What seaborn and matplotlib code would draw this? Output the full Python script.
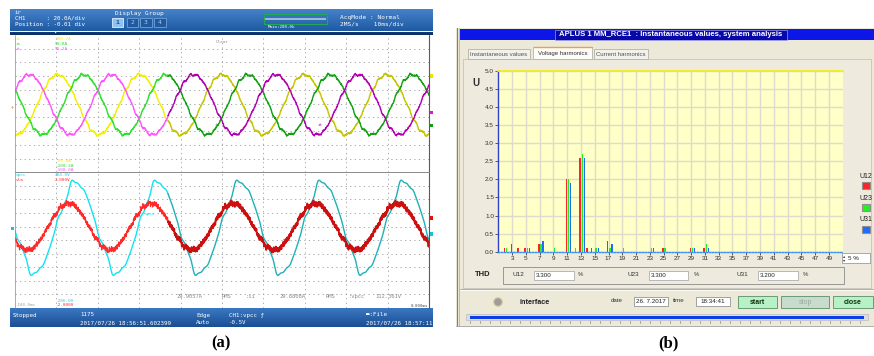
import numpy as np
import pandas as pd
import matplotlib
matplotlib.use("Agg")
import matplotlib.pyplot as plt
import seaborn as sns
from matplotlib.patches import Rectangle, Ellipse
from matplotlib.lines import Line2D
from matplotlib.colors import LinearSegmentedColormap

# ====================== DATA ======================
# (a) oscilloscope record: 10 ms/div, 10 divisions, 50 Hz system
time_span_ms = [0.0, 100.0]
period_ms = 19.86
current_names = ["ir", "is", "it"]
current_amp_A = [43.8, 43.6, 43.8]
current_peak_ms = [10.3, 16.6, 3.45]
current_offset_A = [-1.5, -1.5, -1.5]
current_scale_top = ["100.2A", "99.8A", "99.2A"]
current_scale_bot = ["-99.8A", "-100.2A", "-100.0A"]
current_ripple_orders = [11, 13, 23, 61, 97]
current_ripple_frac = [0.025, 0.02, 0.01, 0.012, 0.01]
voltage_names = ["vpcc", "vla"]
voltage_scale_top = ["284.0V", "2.000V"]
voltage_scale_bot = ["-286.0V", "-2.000V"]
vpcc_amp_V = 188.0
vpcc_offset_V = 51.0
vpcc_peak_ms = 14.85
vpcc_harm_orders = [3, 5, 7, 11, 13]
vpcc_harm_frac = [0.03, 0.05, 0.03, 0.015, 0.015]
vla_amp_V = 0.687
vla_offset_V = 0.396
vla_peak_ms = 12.95
vla_ripple_orders = [11, 13, 37, 71, 113, 157]
vla_ripple_frac = [0.03, 0.03, 0.03, 0.04, 0.04, 0.03]
history_split_ms = 37.0
measure_texts = ["29.9057A", "RMS", ":ii", "29.6808A", "RMS", ":vpcc", "112.361V"]

# (b) voltage harmonics (% of fundamental) per order
orders = [2, 3, 4, 5, 7, 9, 11, 12, 13, 14, 15, 17, 19, 23, 25, 29, 31]
u12 = [0.1, 0.2, 0.1, 0.1, 0.2, 0.0, 2.0, 0.0, 2.6, 0.1, 0.0, 0.3, 0.0, 0.0, 0.1, 0.1, 0.1]
u23 = [0.1, 0.0, 0.0, 0.1, 0.2, 0.1, 2.0, 0.1, 2.7, 0.0, 0.1, 0.1, 0.1, 0.1, 0.1, 0.1, 0.2]
u31 = [0.0, 0.0, 0.0, 0.1, 0.3, 0.0, 1.9, 0.0, 2.6, 0.1, 0.1, 0.2, 0.0, 0.1, 0.0, 0.1, 0.1]
series_names = ["U12", "U23", "U31"]
thd_values = ["3.300", "3.300", "3.200"]
x_tick_orders = list(range(3, 50, 2))
y_ticks = [0.0, 0.5, 1.0, 1.5, 2.0, 2.5, 3.0, 3.5, 4.0, 4.5, 5.0]

# ====================== SETUP ======================
W, H = 874, 356
sns.set_theme(style="white")
plt.rcParams["font.family"] = ["DejaVu Sans"]
MONO = "DejaVu Sans Mono"
UI = "Liberation Sans"

fig = plt.figure(figsize=(W / 100, H / 100), dpi=100)
fig.patch.set_facecolor("white")


def fx(x):
    return x / W


def fy(y):
    return 1 - y / H


def T(x, y, s, size=4.2, color="k", ha="left", va="center", family=MONO, **kw):
    return fig.text(fx(x), fy(y), s, size=size, color=color, ha=ha, va=va,
                    family=family, **kw)


def R(x0, y0, x1, y1, fc="none", ec="none", lw=0.6, z=-1, **kw):
    fig.add_artist(Rectangle((fx(x0), fy(y1)), fx(x1) - fx(x0), fy(y0) - fy(y1),
                             transform=fig.transFigure, fc=fc, ec=ec, lw=lw,
                             zorder=z, **kw))


def L(x0, y0, x1, y1, color="k", lw=0.6, z=2, **kw):
    fig.add_artist(Line2D([fx(x0), fx(x1)], [fy(y0), fy(y1)],
                          transform=fig.transFigure, color=color, lw=lw,
                          zorder=z, **kw))


def AX(x0, y0, x1, y1, **kw):
    return fig.add_axes([fx(x0), fy(y1), fx(x1) - fx(x0), fy(y0) - fy(y1)], **kw)


def grad(x0, y0, x1, y1, ctop, cbot):
    a = AX(x0, y0, x1, y1)
    a.set_axis_off()
    cm = LinearSegmentedColormap.from_list("g", [ctop, cbot])
    a.imshow(np.linspace(0, 1, 64)[:, None], aspect="auto", cmap=cm,
             extent=(0, 1, 0, 1))
    return a


# ====================== (b) HARMONICS WINDOW ======================
R(456, 27.5, 874, 326, fc="#ece9d8", ec="none", z=-2)
L(456.5, 27.5, 456.5, 326, color="#808080", lw=0.8)
L(459, 27.5, 459, 326, color="#b8b4a8", lw=0.6)
L(456, 326, 874, 326, color="#a0a0a0", lw=0.6)
R(460, 29, 874, 40, fc="#0c16e6", z=-1)
R(555, 29.6, 787, 39.6, fc="#0808a8", ec="#b8b8ff", lw=0.4, z=1)
T(671, 34.8, "APLUS 1 MM_RCE1  : Instantaneous values, system analysis", size=5.6,
  color="white", ha="center", family=UI, weight="bold")

for (x0, x1, s, sel) in [(468, 530, "Instantaneous values", False),
                         (533, 592, "Voltage harmonics", True),
                         (594, 648, "Current harmonics", False)]:
    if sel:
        R(x0, 47, x1, 58.8, fc="#fbfbf8", ec="#a8a8a0", lw=0.5, z=0)
        L(x0 + 0.5, 47.2, x1 - 0.5, 47.2, color="#f0a040", lw=1.0)
        T((x0 + x1) / 2, 53.2, s, size=4.3, color="#303030", ha="center", family=UI)
    else:
        R(x0, 49, x1, 58.5, fc="#f2f1ec", ec="#a8a8a0", lw=0.5, z=0)
        T((x0 + x1) / 2, 54.0, s, size=4.3, color="#505050", ha="center", family=UI)
R(463, 58.5, 871, 288, fc="#eeebde", ec="#c0bcb0", lw=0.5, z=-1)

axb = AX(498.3, 70.7, 842.7, 251.7)
n = len(orders)
df_b = pd.DataFrame({
    "order": orders * 3,
    "U": u12 + u23 + u31,
    "series": [series_names[0]] * n + [series_names[1]] * n + [series_names[2]] * n,
})
bar_pal = {"U12": "#ff2424", "U23": "#26ee26", "U31": "#1f6cff"}
sns.barplot(data=df_b, x="order", y="U", hue="series", hue_order=series_names,
            palette=bar_pal, native_scale=True, width=0.95, gap=0.35,
            errorbar=None, legend=False, linewidth=0, saturation=1, ax=axb)
for p in axb.patches:
    p.set_x(p.get_x() + 0.2)
axb.set_facecolor("#ffffc8")
axb.set_xticks(x_tick_orders)
axb.set_xticklabels([str(v) for v in x_tick_orders])
axb.set_yticks(y_ticks)
axb.set_yticklabels([f"{v:.1f}" for v in y_ticks])
axb.set_xlabel("")
axb.set_ylabel("")
axb.tick_params(axis="y", length=2.5, width=0.6, color="#404040", labelsize=4.6,
                labelcolor="#303030", pad=0.6, left=True)
axb.tick_params(axis="x", length=2.0, width=0.6, color="#404040", labelsize=4.6,
                labelcolor="#303030", pad=1.0, bottom=True)
for lab in axb.get_xticklabels() + axb.get_yticklabels():
    lab.set_family(UI)
axb.grid(True, color="#dedbcc", lw=1.0)
axb.set_axisbelow(True)
axb.spines["right"].set_visible(False)
axb.spines["left"].set_color("#3040c8")
axb.spines["left"].set_linewidth(1.0)
axb.spines["top"].set_color("#f2ee10")
axb.spines["top"].set_linewidth(1.2)
axb.spines["bottom"].set_color("#3a8ef0")
axb.spines["bottom"].set_linestyle((0, (1, 1.2)))
axb.spines["bottom"].set_linewidth(1.0)
T(476, 83, "U", size=7, color="#303030", family=UI, weight="bold", ha="center")

leg_cols = [bar_pal[s] for s in series_names]
for i, s in enumerate(series_names):
    yy = 176 + 22 * i
    T(866, yy, s, size=5, color="#202020", family=UI, ha="center")
    R(862, yy + 5.5, 870, yy + 13, fc=leg_cols[i], ec="#909090", lw=0.8, z=1)

R(842, 253, 870, 263, fc="white", ec="#8a8a8a", lw=0.5, z=1)
T(844.3, 255.8, "\u25b4", size=3.2, color="#303030", ha="center", family="DejaVu Sans")
T(844.3, 260.2, "\u25be", size=3.2, color="#303030", ha="center", family="DejaVu Sans")
T(848, 258, "5 %", size=4.5, color="#202020", family=UI)

R(503, 267, 844, 283.5, ec="#8a8a8a", lw=0.6, z=1)
T(483, 275, "THD", size=5.5, color="#202020", family=UI, weight="bold", ha="center")
for (lx, bx0, bx1, px), s, v in zip([(518, 534, 574, 578), (633, 649, 688, 694), (742, 758, 798, 803)],
                                  series_names, thd_values):
    T(lx, 275, s, size=4.6, color="#303030", family=UI, ha="center")
    R(bx0, 270.5, bx1, 280, fc="white", ec="#a0a0a0", lw=0.5, z=1)
    T(bx0 + 1.5, 275.2, v, size=4.5, color="#202020", family=UI)
    T(px, 274.5, "%", size=4.3, color="#303030", family=UI)

L(460, 289, 874, 289, color="#a8a49a", lw=0.6)
L(460, 290, 874, 290, color="white", lw=0.6)
fig.add_artist(Ellipse((fx(498), fy(302)), 8.5 / W, 8.5 / H, transform=fig.transFigure,
                       fc="#9c9c9c", ec="#d8c890", lw=0.8, zorder=1))
T(520, 303, "interface", size=5.2, color="#202020", family=UI, weight="bold")
T(617, 301, "date", size=4.4, color="#303030", family=UI, ha="center")
R(634, 297, 668, 305.5, fc="white", ec="#808080", lw=0.5, z=1)
T(651, 301.3, "26. 7.2017", size=4.5, color="#202020", family=UI, ha="center")
T(679, 301, "time", size=4.4, color="#303030", family=UI, ha="center")
R(696, 297, 730, 305.5, fc="white", ec="#808080", lw=0.5, z=1)
T(713, 301.3, "18:34:41", size=4.5, color="#202020", family=UI, ha="center")
for (x0, x1, s, fc, tc, wt) in [(738, 777, "start", "#b6f2c6", "#103010", "bold"),
                                (781, 829, "stop", "#c8dccd", "#9aaa9c", "normal"),
                                (833, 873, "close", "#b6f2c6", "#103010", "bold")]:
    R(x0, 296, x1, 308, fc=fc, ec="#6a9a78", lw=0.7, z=1)
    T((x0 + x1) / 2, 302.3, s, size=5.0, color=tc, family=UI, ha="center", weight=wt)

R(466, 314.3, 868, 320, fc="#dcdce6", ec="#b0b0c0", lw=0.4, z=0)
R(470, 315.6, 864, 319, fc="#0c3ee6", z=1)
for xx in range(470, 866, 10):
    L(xx, 321, xx, 323.3, color="#808080", lw=0.5)

# ====================== (a) OSCILLOSCOPE ======================
grad(10, 9, 433, 31.5, "#4684cc", "#1f5aa2")
grad(10, 31.5, 433, 35, "#123f7c", "#0b2f60")
grad(10, 308, 433, 327, "#3b78c2", "#1a4e94")
T(15, 12.5, "ir", color="white")
T(15, 18.3, "CH1      : 20.0A/div", color="white")
T(15, 24.5, "Position : -0.01 div", color="white")
T(55, 33.2, "\u25be", color="white", size=4, ha="center")
T(139, 13.3, "Display Group", color="white", ha="center", size=4.4)
for i, (bx0, bx1) in enumerate([(112, 123.5), (126.5, 138), (140, 151.5), (153.5, 166)]):
    if i == 0:
        R(bx0, 17.5, bx1, 27.3, fc="#8cc3f2", ec="#e0f0ff", lw=0.6, z=1)
        T((bx0 + bx1) / 2, 22.5, str(i + 1), color="#1a4f8f", ha="center", size=4.6, weight="bold")
    else:
        R(bx0, 17.5, bx1, 27.3, fc="#21599e", ec="#6fa4d8", lw=0.6, z=1)
        T((bx0 + bx1) / 2, 22.5, str(i + 1), color="#a9cdf0", ha="center", size=4.6)
R(264, 14, 327, 24, ec="#22a855", lw=0.8, z=1)
R(265, 18.3, 326, 19.8, fc="#9ab8d8", z=1)
T(268, 27.0, "Main:200.0k", color="white", size=3.0)
T(340, 17.7, "AcqMode : Normal", color="white", size=4.4)
T(340, 24.3, "2MS/s    10ms/div", color="white", size=4.4)

T(13, 315, "Stopped", color="white")
T(80, 315, "1175", color="white")
T(80, 323, "2017/07/26 18:56:51.602399", color="white")
T(196, 315, "Edge", color="white")
T(196, 323, "Auto", color="white")
T(229, 315, "CH1:vpcc \u0192", color="white")
T(229, 323, "-0.5V", color="white")
T(366, 315, "\u25ac:File", color="white")
T(366, 323, "2017/07/26 18:57:11", color="white")

R(10, 35, 433, 308, fc="white", z=-2)
ax_up = AX(15, 35, 429, 172.3)
ax_lo = AX(15, 172.3, 429, 308)

t_ms = np.linspace(time_span_ms[0], time_span_ms[1], 4001)


def wave(amp, peak, offset, h_orders, h_frac, seed_phase=0.7):
    ph = 2 * np.pi * (t_ms - peak) / period_ms
    out = amp * np.cos(ph) + offset
    for k, (o, fr) in enumerate(zip(h_orders, h_frac)):
        out = out + amp * fr * np.cos(o * ph + 1.3 * k + seed_phase)
    return out


def split_frames(name, vals):
    m1 = t_ms <= history_split_ms
    m2 = t_ms >= history_split_ms - 0.05
    return (pd.DataFrame({"t": t_ms[m1], "v": vals[m1], "key": name}),
            pd.DataFrame({"t": t_ms[m2], "v": vals[m2], "key": name}))


cur_bright = {"ir": "#f2f000", "is": "#2ee02e", "it": "#ff55ff"}
cur_dark = {"ir": "#c4c400", "is": "#10a010", "it": "#b000b0"}
bright_frames, dark_frames = [], []
for i, nm in enumerate(current_names):
    wv = wave(current_amp_A[i], current_peak_ms[i], current_offset_A[i],
              current_ripple_orders, current_ripple_frac, seed_phase=0.7 + i)
    f1, f2 = split_frames(nm, wv)
    bright_frames.append(f1)
    dark_frames.append(f2)
sns.lineplot(data=pd.concat(bright_frames), x="t", y="v", hue="key", palette=cur_bright,
             estimator=None, sort=False, legend=False, lw=1.0, ax=ax_up)
sns.lineplot(data=pd.concat(dark_frames), x="t", y="v", hue="key", palette=cur_dark,
             estimator=None, sort=False, legend=False, lw=1.0, ax=ax_up)

wv_v = wave(vpcc_amp_V, vpcc_peak_ms, vpcc_offset_V, vpcc_harm_orders, vpcc_harm_frac, 0.2)
f1, f2 = split_frames("vpcc", wv_v)
sns.lineplot(data=f1, x="t", y="v", hue="key", palette={"vpcc": "#12e2f2"},
             estimator=None, sort=False, legend=False, lw=1.0, ax=ax_lo)
sns.lineplot(data=f2, x="t", y="v", hue="key", palette={"vpcc": "#1fb0b8"},
             estimator=None, sort=False, legend=False, lw=1.0, ax=ax_lo)
ax_lo2 = ax_lo.twinx()
wv_r = wave(vla_amp_V, vla_peak_ms, vla_offset_V, vla_ripple_orders, vla_ripple_frac, 1.1)
f1, f2 = split_frames("vla", wv_r)
sns.lineplot(data=f1, x="t", y="v", hue="key", palette={"vla": "#ff2a2a"},
             estimator=None, sort=False, legend=False, lw=0.9, ax=ax_lo2)
sns.lineplot(data=f2, x="t", y="v", hue="key", palette={"vla": "#cc1010"},
             estimator=None, sort=False, legend=False, lw=1.3, ax=ax_lo2)

for a in (ax_up, ax_lo, ax_lo2):
    a.set_xlabel("")
    a.set_ylabel("")
    a.tick_params(length=0, labelleft=False, labelbottom=False, labelright=False)
    for s in a.spines.values():
        s.set_visible(False)
    a.set_facecolor("none")
ax_up.set_facecolor("white")
ax_lo.set_facecolor("white")
gkw = dict(color="#9a9a9a", linestyle=(0, (1.5, 4)), lw=0.6)
ax_up.set_xticks(np.arange(10, 100, 10))
ax_lo.set_xticks(np.arange(10, 100, 10))
ax_up.set_yticks(np.linspace(-100, 100, 11)[1:-1])
ax_lo.set_yticks(np.linspace(-286, 284, 11)[1:-1])
ax_up.grid(True, **gkw)
ax_lo.grid(True, **gkw)
ax_lo2.grid(False)
ax_up.set_axisbelow(True)
ax_lo.set_axisbelow(True)

L(15, 35, 15, 308, color="#8a8a8a", lw=0.5)
L(429, 35, 429, 308, color="#5a5a5a", lw=0.8)
L(15, 172.3, 429, 172.3, color="#8a8a8a", lw=0.7)

cur_text_col = [cur_bright[nm] for nm in current_names]
for i, nm in enumerate(current_names):
    T(16, 39.5 + 4.8 * i, nm, color=cur_text_col[i], size=3.2)
    T(55, 39.5 + 4.8 * i, current_scale_top[i], color=cur_text_col[i], size=3.2)
    T(55, 161 + 4.6 * i, current_scale_bot[i], color=cur_text_col[i], size=3.2)
T(222, 41.7, "Clear", color="#909090", size=3.2, ha="center")
v_cols = ["#12d8e8", "#ff2a2a"]
for i, nm in enumerate(voltage_names):
    T(16, 175.3 + 4.4 * i, nm, color=v_cols[i], size=3.2)
    T(55, 175.3 + 4.4 * i, voltage_scale_top[i], color=v_cols[i], size=3.2)
    T(55, 300.5 + 4.6 * i, voltage_scale_bot[i], color=v_cols[i], size=3.2)
T(15, 305.5, "-100.0ms", color="#a0a0a0", size=3.0)
T(428, 305.8, "0.000ms", color="#505050", size=3.0, ha="right")
T(112, 115, "ir", color="#e8e800", size=3.2)
T(215, 125, "is", color="#10a010", size=3.2)
T(318, 125, "it", color="#b000b0", size=3.2)
T(145, 214, "vpcc", color="#12d8e8", size=3.2)
T(283, 240, "vla", color="#cc1010", size=3.2)
for xm, s in zip([177, 222, 246, 280, 326, 349, 375], measure_texts):
    T(xm, 296.3, s, color="#8a8a8a", size=4.0)
for (xm, ym, c) in [(431, 76, "#e8e800"), (431, 113, "#d020d0"), (431, 125, "#10a010"),
                    (431, 218, "#e01010"), (431, 234, "#12c8d8"), (12, 228, "#12c8d8")]:
    R(xm - 1.5, ym - 1.5, xm + 1.5, ym + 1.5, fc=c, z=1)
T(12, 107, "+", color="#f08020", size=4, ha="center")

# panel labels
T(221, 343, "(a)", size=12, color="black", family="Liberation Serif", ha="center", weight="bold")
T(668, 343, "(b)", size=12, color="black", family="Liberation Serif", ha="center", weight="bold")

# final limits (set last so nothing can override them)
for a in (ax_up, ax_lo, ax_lo2):
    a.set_autoscale_on(False)
    a.set_xlim(*time_span_ms)
ax_up.set_ylim(-100, 100)
ax_lo.set_ylim(-286, 284)
ax_lo2.set_ylim(-2, 2)
axb.set_autoscale_on(False)
axb.set_xlim(1, 51)
axb.set_ylim(0, 5)

fig.savefig("out.png", dpi=100, facecolor="white")
